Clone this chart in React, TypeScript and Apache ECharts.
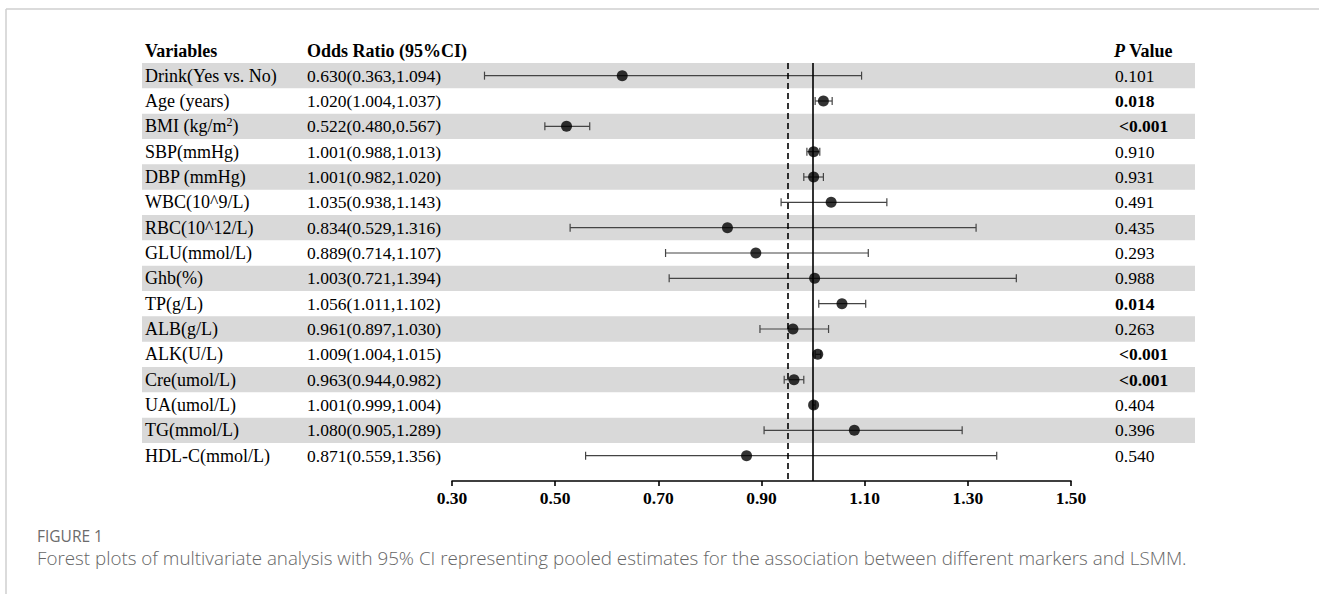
import React, { useEffect, useRef } from "react";
import * as echarts from "echarts";

const variables = [
  "Drink(Yes vs. No)",
  "Age (years)",
  "BMI (kg/m²)",
  "SBP(mmHg)",
  "DBP (mmHg)",
  "WBC(10^9/L)",
  "RBC(10^12/L)",
  "GLU(mmol/L)",
  "Ghb(%)",
  "TP(g/L)",
  "ALB(g/L)",
  "ALK(U/L)",
  "Cre(umol/L)",
  "UA(umol/L)",
  "TG(mmol/L)",
  "HDL-C(mmol/L)",
];
const oddsRatio = [0.63, 1.02, 0.522, 1.001, 1.001, 1.035, 0.834, 0.889, 1.003, 1.056, 0.961, 1.009, 0.963, 1.001, 1.08, 0.871];
const ciLow = [0.363, 1.004, 0.48, 0.988, 0.982, 0.938, 0.529, 0.714, 0.721, 1.011, 0.897, 1.004, 0.944, 0.999, 0.905, 0.559];
const ciHigh = [1.094, 1.037, 0.567, 1.013, 1.02, 1.143, 1.316, 1.107, 1.394, 1.102, 1.03, 1.015, 0.982, 1.004, 1.289, 1.356];
const pValues = ["0.101", "0.018", "<0.001", "0.910", "0.931", "0.491", "0.435", "0.293", "0.988", "0.014", "0.263", "<0.001", "<0.001", "0.404", "0.396", "0.540"];
const pBold = [false, true, true, false, false, false, false, false, false, true, false, true, true, false, false, false];
const xMin = 0.3;
const xMax = 1.5;
const xStep = 0.2;
const nullLine = 1.0;
const dashedLine = 0.95;

const SERIF = "'Liberation Serif', 'Times New Roman', serif";
const SANS = "'Open Sans', 'Noto Sans', sans-serif";

function richName(name: string): string {
  if (!name.includes("²")) return name;
  const [pre, post] = name.split("²");
  return `{n|${pre}}{sup|2}{n|${post}}`;
}

export default function App() {
  const ref = useRef<HTMLDivElement>(null);
  useEffect(() => {
    if (!ref.current) return;
    const chart = echarts.init(ref.current, null, { renderer: "svg" });
    const rows = variables.map((_, i) => i);
    const bandRows = rows.filter((i) => i % 2 === 0);
    const option: any = {
      animation: false,
      backgroundColor: "#fff",
      grid: { left: 452, right: 248, top: 63, bottom: 113, containLabel: false },
      xAxis: {
        type: "value",
        min: xMin,
        max: xMax,
        interval: xStep,
        axisLine: { show: true, onZero: false, lineStyle: { color: "#000", width: 1.6 } },
        axisTick: { show: true, length: 5, lineStyle: { color: "#000", width: 1.6 } },
        splitLine: { show: false },
        axisLabel: {
          formatter: (v: number) => v.toFixed(2),
          fontFamily: SERIF,
          fontWeight: "bold",
          fontSize: 17.5,
          color: "#000",
          margin: 8,
        },
      },
      yAxis: { type: "value", min: -0.5, max: variables.length, inverse: true, show: false },
      graphic: [
        { type: "line", shape: { x1: 6, y1: 9, x2: 1319, y2: 9 }, style: { stroke: "#cfcfcf", lineWidth: 1.5 }, silent: true },
        { type: "line", shape: { x1: 6, y1: 9, x2: 6, y2: 594 }, style: { stroke: "#cfcfcf", lineWidth: 1.5 }, silent: true },
        { type: "text", x: 145, y: 51, style: { text: "Variables", font: `bold 18px ${SERIF}`, fill: "#000", verticalAlign: "middle" } },
        { type: "text", x: 307, y: 51, style: { text: "Odds Ratio (95%CI)", font: `bold 18px ${SERIF}`, fill: "#000", verticalAlign: "middle" } },
        {
          type: "text",
          x: 1114,
          y: 51,
          style: {
            text: "{i|P}{b| Value}",
            verticalAlign: "middle",
            rich: {
              i: { fontFamily: SERIF, fontSize: 18, fontWeight: "bold", fontStyle: "italic", fill: "#000" },
              b: { fontFamily: SERIF, fontSize: 18, fontWeight: "bold", fill: "#000" },
            },
          },
        },
        { type: "text", x: 37, y: 536, style: { text: "FIGURE 1", font: `15.5px ${SANS}`, fill: "#6b6b6b", verticalAlign: "middle" } },
        {
          type: "text",
          x: 37,
          y: 558,
          style: {
            text: "Forest plots of multivariate analysis with 95% CI representing pooled estimates for the association between different markers and LSMM.",
            font: `300 18.8px ${SANS}`,
            fill: "#666",
            verticalAlign: "middle",
          },
        },
      ],
      series: [
        {
          type: "custom",
          name: "bands",
          coordinateSystem: "cartesian2d",
          clip: false,
          z: 0,
          silent: true,
          data: bandRows.map((i) => [xMin, i]),
          renderItem: (params: any, api: any) => {
            const i = api.value(1);
            const top = api.coord([xMin, i - 0.5])[1];
            const bot = api.coord([xMin, i + 0.5])[1];
            return { type: "rect", shape: { x: 142, y: top, width: 1053, height: bot - top }, style: { fill: "#d9d9d9" } };
          },
        },
        {
          type: "custom",
          name: "table",
          coordinateSystem: "cartesian2d",
          clip: false,
          z: 3,
          silent: true,
          data: rows.map((i) => [xMin, i]),
          renderItem: (params: any, api: any) => {
            const i = api.value(1);
            const y = api.coord([xMin, i])[1];
            const orText = `${oddsRatio[i].toFixed(3)}(${ciLow[i].toFixed(3)},${ciHigh[i].toFixed(3)})`;
            const p = pValues[i];
            const name = variables[i];
            return {
              type: "group",
              children: [
                {
                  type: "text",
                  x: 145,
                  y,
                  style: {
                    text: richName(name),
                    font: `18px ${SERIF}`,
                    fill: "#000",
                    verticalAlign: "middle",
                    rich: {
                      n: { fontFamily: SERIF, fontSize: 18, fill: "#000", lineHeight: 20 },
                      sup: { fontFamily: SERIF, fontSize: 12, fill: "#000", verticalAlign: "top", lineHeight: 11 },
                    },
                  },
                },
                {
                  type: "text",
                  x: 307,
                  y,
                  style: { text: orText, font: `17.5px ${SERIF}`, fill: "#000", verticalAlign: "middle" },
                },
                {
                  type: "text",
                  x: p.startsWith("<") ? 1119 : 1115,
                  y,
                  style: { text: p, font: `${pBold[i] ? "bold " : ""}17.5px ${SERIF}`, fill: "#000", verticalAlign: "middle" },
                },
              ],
            };
          },
        },
        {
          type: "custom",
          name: "ci",
          coordinateSystem: "cartesian2d",
          z: 4,
          silent: true,
          data: rows.map((i) => [ciLow[i], ciHigh[i], i]),
          encode: { x: [0, 1], y: 2 },
          renderItem: (params: any, api: any) => {
            const i = api.value(2);
            const a = api.coord([api.value(0), i]);
            const b = api.coord([api.value(1), i]);
            const st = { stroke: "#444", lineWidth: 1.2 };
            return {
              type: "group",
              children: [
                { type: "line", shape: { x1: a[0], y1: a[1], x2: b[0], y2: b[1] }, style: st },
                { type: "line", shape: { x1: a[0], y1: a[1] - 4, x2: a[0], y2: a[1] + 4 }, style: st },
                { type: "line", shape: { x1: b[0], y1: b[1] - 4, x2: b[0], y2: b[1] + 4 }, style: st },
              ],
            };
          },
        },
        {
          type: "scatter",
          name: "OR",
          z: 6,
          symbol: "circle",
          symbolSize: 11,
          itemStyle: { color: "#000" },
          silent: true,
          data: rows.map((i) => [oddsRatio[i], i]),
          markLine: {
            silent: true,
            symbol: "none",
            label: { show: false },
            z: 5,
            data: [
              [
                { coord: [nullLine, -0.5], lineStyle: { color: "#000", width: 1.6, type: "solid" } },
                { coord: [nullLine, variables.length] },
              ],
              [
                { coord: [dashedLine, -0.5], lineStyle: { color: "#000", width: 1.6, type: [6, 4] } },
                { coord: [dashedLine, variables.length] },
              ],
            ],
          },
        },
      ],
    };
    chart.setOption(option);
    return () => chart.dispose();
  }, []);
  return <div ref={ref} style={{ position: "absolute", left: 0, top: 0, width: 1319, height: 594 }} />;
}
